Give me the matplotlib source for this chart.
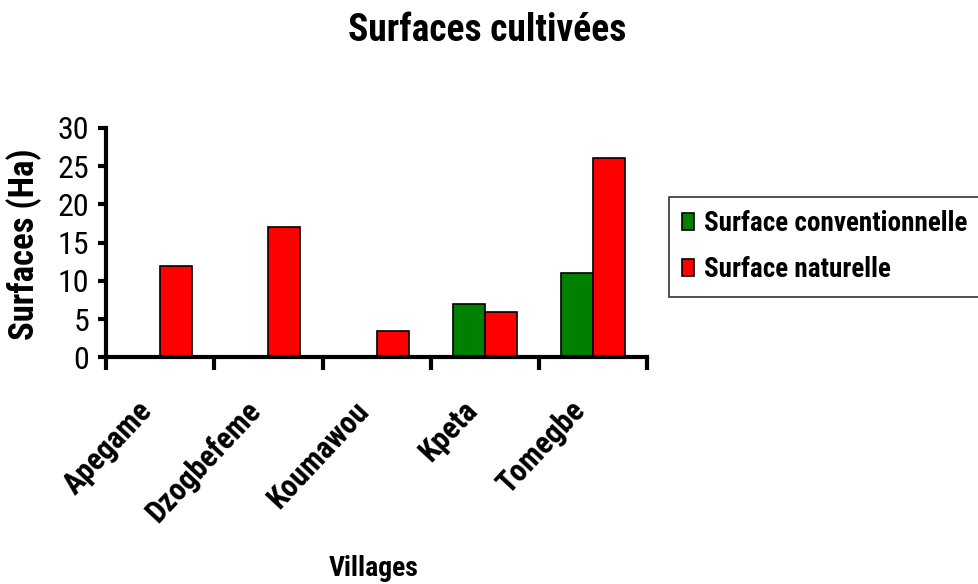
import matplotlib
matplotlib.use("Agg")
import matplotlib.pyplot as plt
import matplotlib.transforms as mtrans
import numpy as np

villages = ["Apegame", "Dzogbefeme", "Koumawou", "Kpeta", "Tomegbe"]
surface_conv = [0, 0, 0, 7, 11]
surface_nat = [12, 17, 3.5, 6, 26]
yticks = [0, 5, 10, 15, 20, 25, 30]

plt.rcParams["font.family"] = ["Roboto Condensed", "Liberation Sans", "DejaVu Sans"]

fig = plt.figure(figsize=(9.79, 5.84), dpi=100)
ax = fig.add_axes([0.1083, 0.388, 0.553, 0.393])

x = np.arange(len(villages))
w = 0.296
ax.bar(x - w / 2, surface_conv, w, color="#008000", edgecolor="black", linewidth=1.2,
       label="Surface conventionnelle")
ax.bar(x + w / 2, surface_nat, w, color="#ff0000", edgecolor="black", linewidth=1.2,
       label="Surface naturelle")

ax.set_xlim(-0.5, len(villages) - 0.5)
ax.set_ylim(0, 30)
ax.set_yticks(yticks)
ax.set_yticklabels([str(v) for v in yticks], fontsize=23)
ax.set_xticks(np.arange(-0.5, len(villages)))
ax.set_xticklabels([])
ax.tick_params(axis="x", length=9, width=3, direction="out")
ax.tick_params(axis="y", length=6, width=3, direction="out", pad=6)

# category labels, rotated, placed under each category centre
off = mtrans.ScaledTranslation(-24 / 100, -38 / 100, fig.dpi_scale_trans)
for xi, name in zip(x, villages):
    ax.text(xi, 0, name, transform=ax.get_xaxis_transform() + off, rotation=47,
            rotation_mode="anchor", ha="right", va="top", fontsize=22, fontweight="bold")

for s in ["top", "right"]:
    ax.spines[s].set_visible(False)
for s in ["left", "bottom"]:
    ax.spines[s].set_linewidth(3)

fig.text(24 / 979, 0.582, "Surfaces (Ha)", rotation=90, ha="center", va="center",
         fontsize=25, fontweight="bold")
fig.text(0.382, 0.0137, "Villages", ha="center", va="baseline", fontsize=20, fontweight="bold")
fig.text(0.498, 0.948, "Surfaces cultivées", ha="center", va="center", fontsize=27, fontweight="bold")

leg = fig.legend(loc="upper left", bbox_to_anchor=(0.683, 0.663), frameon=True, fancybox=False,
                 edgecolor="black", prop={"weight": "bold", "size": 19.5},
                 handlelength=0.43, handleheight=0.61, handletextpad=0.37, labelspacing=0.7,
                 borderpad=0.5, borderaxespad=0)
leg.get_frame().set_linewidth(1.2)

fig.savefig("out.png", dpi=100)
